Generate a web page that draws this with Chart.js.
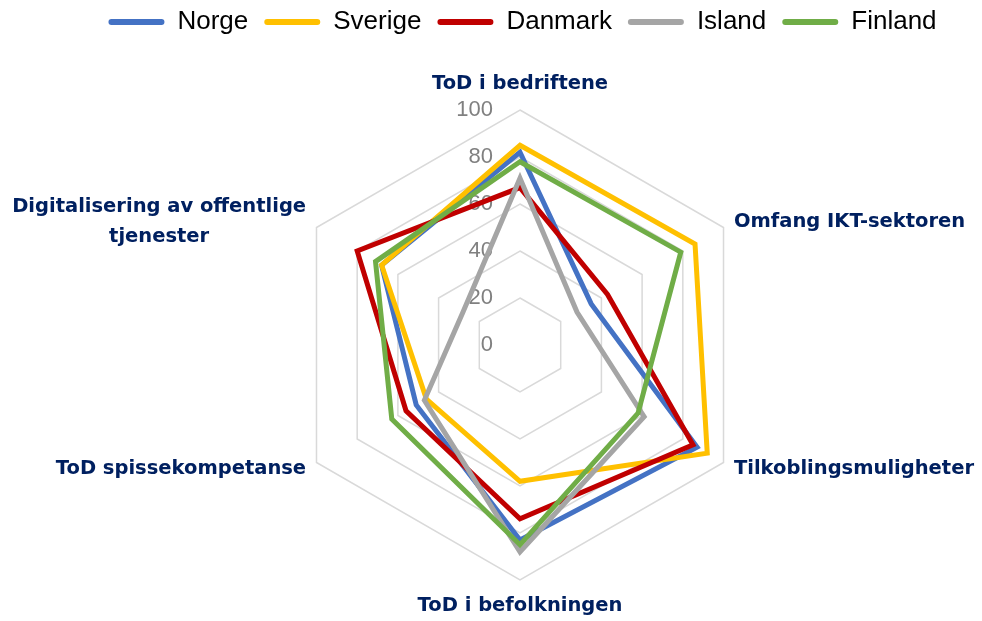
<!DOCTYPE html>
<html>
<head>
<meta charset="utf-8">
<script src="https://cdn.jsdelivr.net/npm/chart.js@4/dist/chart.umd.min.js"></script>
<style>
    html, body { margin: 0; padding: 0; background: #fff; }
    #wrap { width: 982px; height: 621px; }
</style>
</head>
<body>
<div id="wrap"><canvas id="chart1"></canvas></div>
<script>
// axes, clockwise from the top
var labels = ["ToD i bedriftene", "Omfang IKT-sektoren", "Tilkoblingsmuligheter", "ToD i befolkningen", "ToD spissekompetanse", ["Digitalisering av offentlige", "tjenester"]]

var countries = ["Norge", "Sverige", "Danmark", "Island", "Finland"]
var colors = ["#4472C4", "#FFC000", "#C00000", "#A5A5A5", "#70AD47"]

var norge   = [82, 35, 87, 83, 51, 68]
var sverige = [85, 86, 92, 58, 46, 68]
var danmark = [67, 43, 85, 74, 56, 80]
var island  = [71, 28, 61, 88, 47, 28]
var finland = [78, 79, 58, 85, 63, 71]

var tickMin = 0
var tickMax = 100
var tickStep = 20

var series = [norge, sverige, danmark, island, finland]

var datasets = []
for (var i in series) {
    datasets.push({
        label: countries[i],
        data: series[i],
        borderColor: colors[i],
        backgroundColor: colors[i],
        borderWidth: 5,
        fill: false,
        pointRadius: 0,
        pointHoverRadius: 0,
        // last series on top, like the original
        order: series.length - i
    })
}

// tick numbers sit left of the vertical axis, under the lines
// axis names are placed outside each corner
var radarText = {
    id: "radarText",
    beforeDatasetsDraw: function (chart) {
        var scale = chart.scales.r
        var ctx = chart.ctx
        ctx.save()
        ctx.font = '22px "Liberation Sans"'
        ctx.fillStyle = "#808080"
        ctx.textAlign = "right"
        ctx.textBaseline = "middle"
        scale.ticks.forEach(function (t) {
            var y = scale.yCenter - scale.getDistanceFromCenterForValue(t.value)
            ctx.fillText(t.label, scale.xCenter - 27, y)
        })
        ctx.restore()
    },
    afterDatasetsDraw: function (chart) {
        var scale = chart.scales.r
        var ctx = chart.ctx
        ctx.save()
        ctx.font = 'bold 19.5px "DejaVu Sans"'
        ctx.fillStyle = "#002060"
        ctx.textBaseline = "middle"
        var lineH = 30
        for (var i = 0; i < labels.length; i++) {
            var lines = Array.isArray(labels[i]) ? labels[i] : [labels[i]]
            var angle = scale.getIndexAngle(i)
            var sin = Math.sin(angle)
            var vertical = Math.abs(sin) < 0.01
            var p = scale.getPointPosition(i, scale.drawingArea + (vertical ? 26 : 12))
            var w = 0
            lines.forEach(function (l) { w = Math.max(w, ctx.measureText(l).width) })
            var cx = p.x
            if (!vertical) cx = sin > 0 ? p.x + w / 2 : p.x - w / 2
            ctx.textAlign = "center"
            var y0 = p.y - (lines.length - 1) * lineH / 2
            lines.forEach(function (l, k) { ctx.fillText(l, cx, y0 + k * lineH) })
        }
        ctx.restore()
    }
}

const myChart = new Chart(document.getElementById("chart1"), {
    type: "radar",
    data: {
        labels: labels,
        datasets: datasets
    },
    options: {
        responsive: true,
        maintainAspectRatio: false,
        animation: false,
        layout: { padding: { top: -7, left: 63 } },
        elements: { line: { tension: 0 } },
        scales: {
            r: {
                min: tickMin,
                max: tickMax,
                ticks: { stepSize: tickStep, display: false },
                grid: { color: "#d9d9d9", lineWidth: 1.5 },
                angleLines: { display: false },
                pointLabels: { display: false },
                afterFit: function (scale) {
                    scale.xCenter = 520
                    scale.yCenter = 345
                    scale.drawingArea = 235
                }
            }
        },
        plugins: {
            tooltip: { enabled: false },
            legend: {
                position: "top",
                labels: {
                    boxWidth: 56,
                    boxHeight: 6,
                    useBorderRadius: true,
                    borderRadius: 3,
                    padding: 16,
                    color: "#000",
                    font: { family: "Liberation Sans", size: 26 },
                    sort: function (a, b) { return a.datasetIndex - b.datasetIndex },
                    generateLabels: function (chart) {
                        var items = Chart.defaults.plugins.legend.labels.generateLabels(chart)
                        items.forEach(function (it) {
                            it.fillStyle = it.strokeStyle
                            it.lineWidth = 0
                        })
                        return items
                    }
                }
            }
        }
    },
    plugins: [radarText]
});
</script>
</body>
</html>
